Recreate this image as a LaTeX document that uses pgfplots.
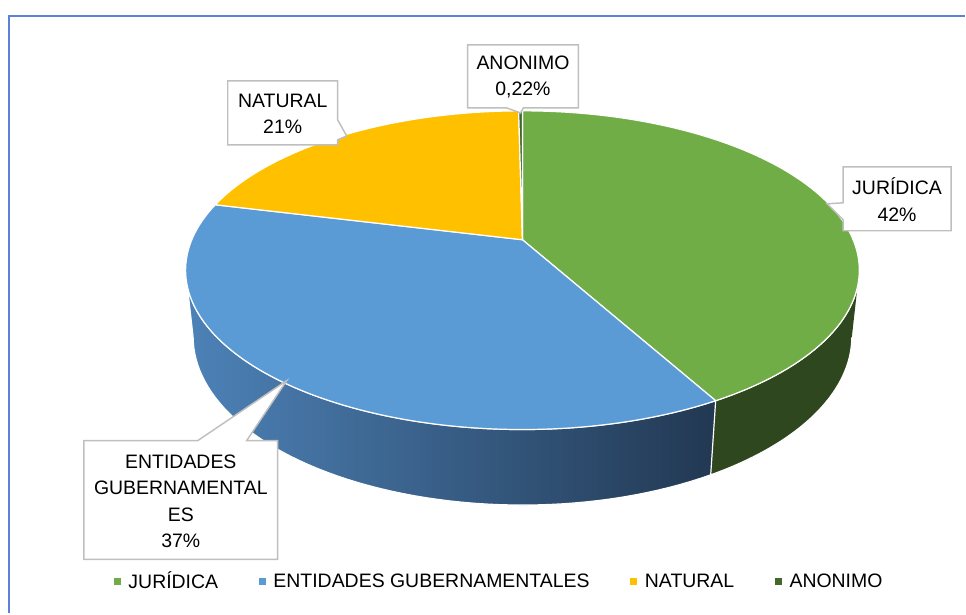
\documentclass[border=0pt]{standalone}
\usepackage{pgfplots}
\pgfplotsset{compat=1.18}
\usepackage{fontspec}
\setmainfont{Liberation Sans}
\definecolor{cJ}{HTML}{70AD47}
\definecolor{cE}{HTML}{5B9BD5}
\definecolor{cN}{HTML}{FFC000}
\definecolor{cA}{HTML}{43682B}
\definecolor{sJ}{HTML}{2E471E}
\definecolor{sEl}{HTML}{4D82B8}
\definecolor{sEr}{HTML}{223852}
\definecolor{frameblue}{HTML}{5B82D6}
\definecolor{callout}{HTML}{BFBFBF}
\newcommand\lbl{\fontsize{14.6}{19.9}\selectfont}
% data (percent)
\def\vJ{42}\def\vE{37}\def\vN{21}\def\vA{0.22}
\pgfmathsetmacro\tot{\vJ+\vE+\vN+\vA}
\pgfmathsetmacro\aS{90}
\pgfmathsetmacro\aJ{\aS-360*\vJ/\tot}
\pgfmathsetmacro\aE{\aJ-360*\vE/\tot}
\pgfmathsetmacro\aN{\aE-360*\vN/\tot}
\pgfmathsetmacro\aA{\aN-360*\vA/\tot}
% top face of a slice: start angle, end angle, colour
\newcommand\topslice[3]{%
\addplot[forget plot, fill=#3, draw=white, line width=0.9pt, line join=round,
  samples at={-1,0,1,...,90,-1}]
 ({px(#1+(#2-#1)*max(x,0)/90,(x>=0),0)},{py(#1+(#2-#1)*max(x,0)/90,(x>=0),0)});}
% outer side of a slice
\newcommand\rim[3]{%
\addplot[forget plot, #3, draw=white, line width=0.9pt, line join=round,
  samples at={0,1,...,121}]
 ({px(#1+(#2-#1)*ifthenelse(x<60.5,x,121-x)/60,1,(x>60.5))},
  {py(#1+(#2-#1)*ifthenelse(x<60.5,x,121-x)/60,1,(x>60.5))});}
\begin{document}
\begin{tikzpicture}
\begin{axis}[
  width=724.5pt, height=460.5pt, scale only axis, hide axis,
  xmin=0, xmax=966, ymin=-614, ymax=0, clip=false,
  declare function={
    px(\t,\r,\h)=523+331*\r*cos(\t)/(1+0.191*\r*sin(\t)+0.022*\h);
    py(\t,\r,\h)=-240+(153.7*\r*sin(\t)-67*\h)/(1+0.191*\r*sin(\t)+0.022*\h);
  },
  legend columns=4,
  legend image code/.code={\path[#1, draw=none] (0pt,-2.6pt) rectangle (5.2pt,2.6pt);\path[draw=none, fill=none] (0pt,0pt) -- (9pt,0pt);},
  legend style={at={(axis cs:500,-582)}, anchor=center, draw=none, fill=none,
    font=\lbl, /tikz/every even column/.append style={column sep=28.5pt}},
]
% frame
\draw[frameblue, line width=1.5pt] (axis cs:9,-614) -- (axis cs:9,-16) -- (axis cs:966,-16);
% sides
\rim{\aJ}{-169}{left color=sEl, right color=sEr}
\rim{-11}{\aJ}{fill=sJ}
% top faces
\topslice{\aS}{\aJ}{cJ}
\topslice{\aJ}{\aE}{cE}
\topslice{\aE}{\aN}{cN}
\topslice{\aN}{\aA}{cA}
% legend
\addlegendimage{fill=cJ}\addlegendentry{JURÍDICA}
\addlegendimage{fill=cE}\addlegendentry{ENTIDADES GUBERNAMENTALES}
\addlegendimage{fill=cN}\addlegendentry{NATURAL}
\addlegendimage{fill=cA}\addlegendentry{ANONIMO}
% callouts
\draw[callout, line width=1.1pt, fill=white] (axis cs:468,-45) -- (axis cs:579,-45) -- (axis cs:579,-108) -- (axis cs:524,-108) -- (axis cs:521,-113) -- (axis cs:507,-108) -- (axis cs:468,-108) -- cycle;
\node[align=center, font=\lbl, inner sep=0pt] at (axis cs:523.5,-77) {ANONIMO\\0,22\%};
\draw[callout, line width=1.1pt, fill=white] (axis cs:228,-81) -- (axis cs:338,-81) -- (axis cs:338,-120) -- (axis cs:347,-136) -- (axis cs:338,-140) -- (axis cs:338,-145) -- (axis cs:228,-145) -- cycle;
\node[align=center, font=\lbl, inner sep=0pt] at (axis cs:283,-114) {NATURAL\\21\%};
\draw[callout, line width=1.1pt, fill=white] (axis cs:844,-167) -- (axis cs:952,-167) -- (axis cs:952,-231) -- (axis cs:844,-231) -- (axis cs:844,-220) -- (axis cs:828,-204) -- (axis cs:844,-203) -- cycle;
\node[align=center, font=\lbl, inner sep=0pt] at (axis cs:898,-200) {JURÍDICA\\42\%};
\draw[callout, line width=1.1pt, fill=white] (axis cs:84,-441) -- (axis cs:198,-441) -- (axis cs:287,-381) -- (axis cs:247,-441) -- (axis cs:278,-441) -- (axis cs:278,-560) -- (axis cs:84,-560) -- cycle;
\node[align=center, font=\lbl, inner sep=0pt] at (axis cs:181,-502) {ENTIDADES\\GUBERNAMENTAL\\ES\\37\%};
\path (axis cs:0,0) (axis cs:966,-614);
\end{axis}
\end{tikzpicture}
\end{document}
